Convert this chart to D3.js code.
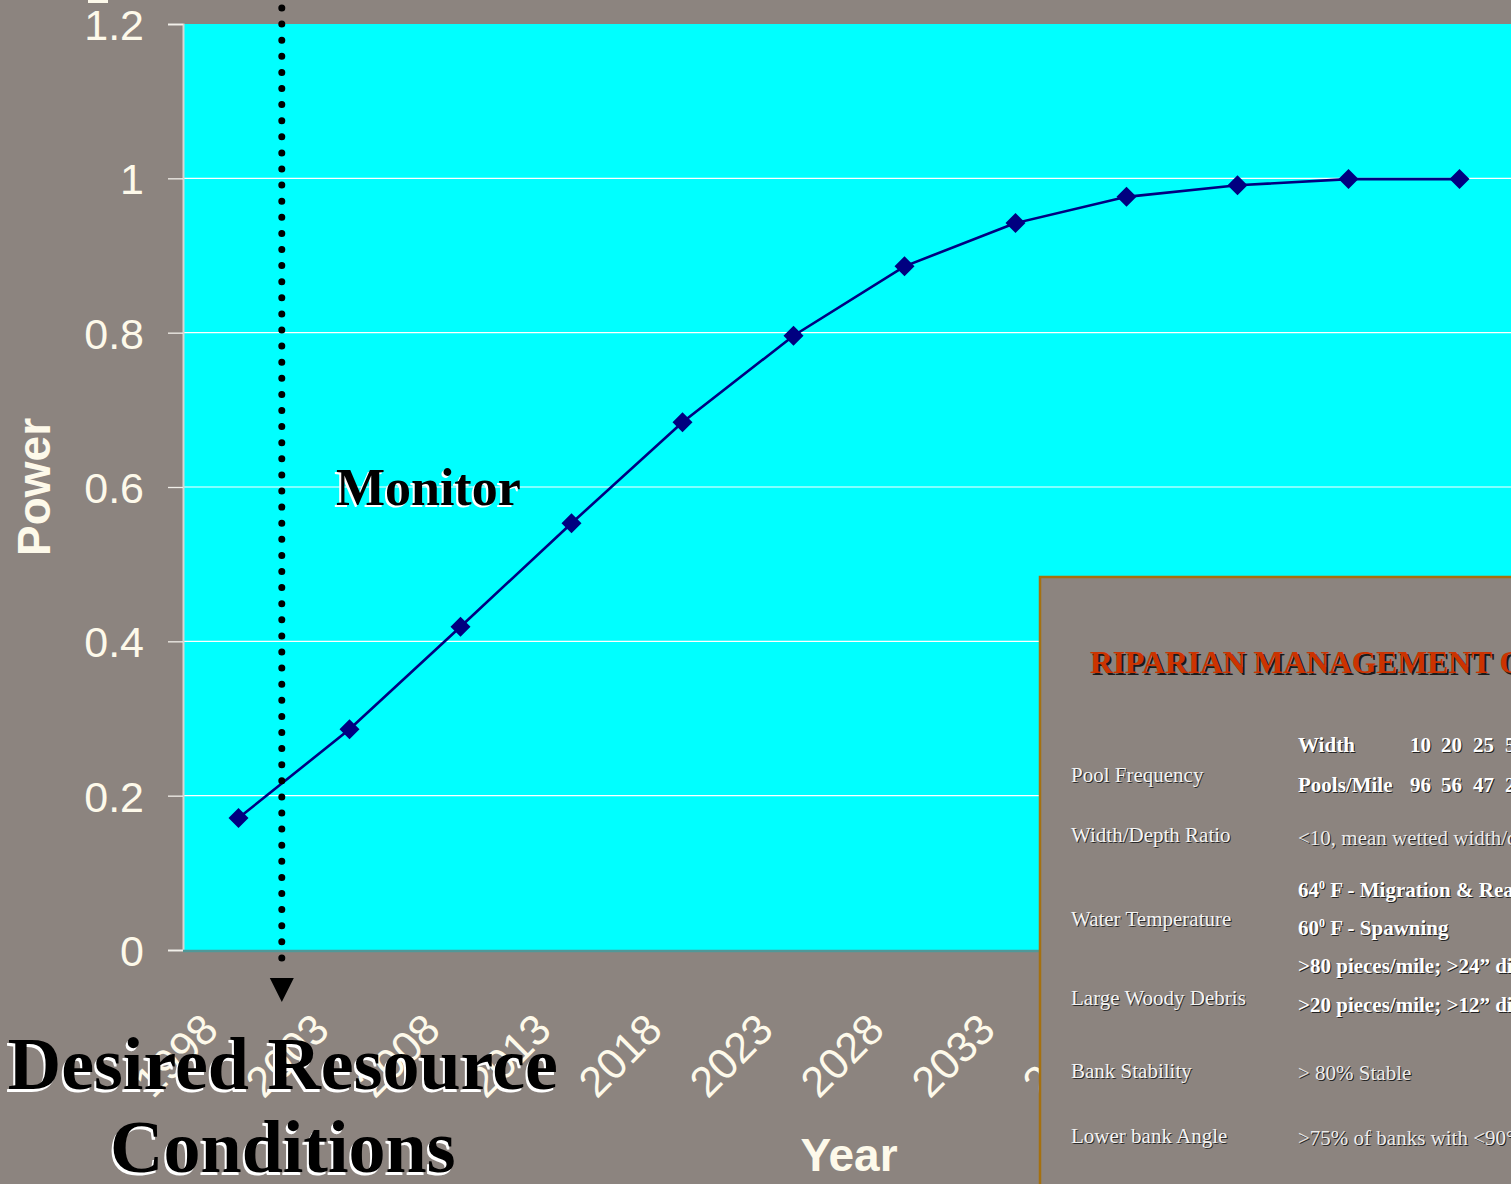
<!DOCTYPE html>
<html><head><meta charset="utf-8">
<script src="https://cdn.jsdelivr.net/npm/d3@7/dist/d3.min.js"></script>
<style>
html,body{margin:0;padding:0;background:#8c847f;overflow:hidden;}
svg{display:block;}
</style></head>
<body>
<svg id="c" width="1511" height="1184"></svg>
<script>
// ---- data ----
const years = ['1998','2003','2008','2013','2018','2023','2028','2033','2038','2043','2048','2053'];
const power = [0.171,0.286,0.419,0.553,0.684,0.796,0.886,0.942,0.976,0.991,0.999,0.999];
const yTicks = [0,0.2,0.4,0.6,0.8,1,1.2];
const gridTicks = [0.2,0.4,0.6,0.8,1];

const insetTitle = 'RIPARIAN MANAGEMENT OBJECTIVES';
const insetLabels = ['Pool Frequency','Width/Depth Ratio','Water Temperature','Large Woody Debris','Bank Stability','Lower bank Angle'];
const channelWidths = ['10','20','25','50'];
const poolsPerMile = ['96','56','47','26'];

(function(){
const BG = '#8c847f', CREAM = '#fdf9ea';
const svg = d3.select('#c');
svg.append('rect').attr('width',1511).attr('height',1184).attr('fill',BG);

const pLeft=183, pTop=24, pBottom=950, pRight=1515;
const x = d3.scaleBand().domain(years).range([pLeft,pRight]);
const y = d3.scaleLinear().domain([0,1.2]).range([pBottom,pTop]);
const cx = d => x(d)+x.bandwidth()/2;

// plot area
svg.append('rect').attr('x',pLeft).attr('y',pTop).attr('width',pRight-pLeft).attr('height',pBottom-pTop).attr('fill','#00ffff');
// grid
svg.append('g').selectAll('line').data(gridTicks).join('line')
  .attr('x1',pLeft).attr('x2',pRight).attr('y1',d=>y(d)).attr('y2',d=>y(d))
  .attr('stroke','#ffffff').attr('stroke-width',1.2);

// y axis
const ya = svg.append('g').attr('transform',`translate(${pLeft},0)`)
  .call(d3.axisLeft(y).tickValues(yTicks).tickSize(15).tickPadding(24).tickFormat(d3.format('~g')));
ya.select('.domain').attr('stroke','#d9d6d2').attr('stroke-width',2);
ya.selectAll('.tick line').attr('stroke','#f2f0ea').attr('stroke-width',1.3);
ya.selectAll('.tick text').attr('fill',CREAM).attr('font-family','Liberation Sans, Arial, sans-serif').attr('font-size',43).attr('dy','0.36em');

// x axis line
svg.append('line').attr('x1',pLeft).attr('x2',pRight).attr('y1',pBottom+1).attr('y2',pBottom+1).attr('stroke','#4f9898').attr('stroke-width',2.5);

// x labels
svg.append('g').selectAll('text').data(years).join('text')
  .attr('transform',d=>`translate(${cx(d)-18},${1032}) rotate(-45)`)
  .attr('text-anchor','end').attr('fill',CREAM)
  .attr('font-family','Liberation Sans, Arial, sans-serif').attr('font-size',43)
  .text(d=>d);

// axis titles
svg.append('text').attr('transform',`translate(50,${(pTop+pBottom)/2}) rotate(-90)`)
  .attr('text-anchor','middle').attr('fill',CREAM).attr('font-weight','bold')
  .attr('font-family','Liberation Sans, Arial, sans-serif').attr('font-size',46).text('Power');
svg.append('text').attr('x',(pLeft+pRight)/2).attr('y',1171)
  .attr('text-anchor','middle').attr('fill',CREAM).attr('font-weight','bold')
  .attr('font-family','Liberation Sans, Arial, sans-serif').attr('font-size',46).text('Year');

// series
const line = d3.line().x((d,i)=>cx(years[i])).y(d=>y(d));
svg.append('path').datum(power).attr('d',line).attr('fill','none').attr('stroke','#000080').attr('stroke-width',2.6);
svg.append('g').selectAll('path').data(power).join('path')
  .attr('d',d3.symbol(d3.symbolSquare,200)())
  .attr('transform',(d,i)=>`translate(${cx(years[i])},${y(d)}) rotate(45)`)
  .attr('fill','#000080');

// annotation: dotted arrow
const ax = x('1998') + x.bandwidth()*0.89;
svg.append('line').attr('x1',ax).attr('x2',ax).attr('y1',8).attr('y2',972)
  .attr('stroke','#000').attr('stroke-width',7).attr('stroke-linecap','round').attr('stroke-dasharray','0 16.1');
svg.append('path').attr('d',`M${ax-12},978 L${ax+12},978 L${ax},1002 Z`).attr('fill','#000');
svg.append('rect').attr('x',88).attr('y',0).attr('width',20).attr('height',3).attr('fill',CREAM);

function shadowText(g, xx, yy, txt, opt){
  const o = Object.assign({size:20,weight:'normal',fill:'#fff',shadow:'#222',sdx:1,sdy:1,anchor:'start',family:'Liberation Serif, Times New Roman, serif'},opt);
  [[o.shadow,o.sdx,o.sdy],[o.fill,0,0]].forEach(([c,dx,dy])=>{
    g.append('text').attr('x',xx+dx).attr('y',yy+dy).attr('fill',c)
      .attr('font-family',o.family).attr('font-size',o.size).attr('font-weight',o.weight)
      .attr('text-anchor',o.anchor).text(txt);
  });
}
// Monitor
shadowText(svg, x('2008')+x.bandwidth()*0.21, 505, 'Monitor', {size:52, weight:'bold', fill:'#000', shadow:'#fff', sdx:-2, sdy:2, anchor:'middle'});
// Desired Resource Conditions
shadowText(svg, ax+1, 1089, 'Desired Resource', {size:74, weight:'bold', fill:'#000', shadow:'#fff', sdx:-2, sdy:3, anchor:'middle'});
shadowText(svg, ax+1, 1172, 'Conditions', {size:74, weight:'bold', fill:'#000', shadow:'#fff', sdx:-2, sdy:3, anchor:'middle'});

// inset
const ins = svg.append('g');
ins.append('rect').attr('x',1040).attr('y',577).attr('width',520).attr('height',700).attr('fill',BG).attr('stroke','#a5700f').attr('stroke-width',2.5);
shadowText(ins, 1090, 673, insetTitle, {size:31.6, weight:'bold', fill:'#cc3300', shadow:'#1a1a1a', sdx:2, sdy:2});
const labelY = [782,842,926,1005,1078,1143];
insetLabels.forEach((t,i)=>shadowText(ins,1071,labelY[i],t,{size:21,fill:'#f4f4f4',shadow:'#2a2a2a'}));
const vx = 1298, colX = [1410,1441,1473,1505];
shadowText(ins, vx, 752, 'Width', {size:21, weight:'bold'});
channelWidths.forEach((t,i)=>shadowText(ins,colX[i],752,t,{size:21,weight:'bold'}));
shadowText(ins, vx, 792, 'Pools/Mile', {size:21, weight:'bold'});
poolsPerMile.forEach((t,i)=>shadowText(ins,colX[i],792,t,{size:21,weight:'bold'}));
shadowText(ins, vx, 845, '<10, mean wetted width/depth', {size:21, fill:'#ececec'});
function tempLine(yy, num, rest){
  [['#222',1,1],['#fff',0,0]].forEach(([c,dx,dy])=>{
    const t = ins.append('text').attr('x',vx+dx).attr('y',yy+dy).attr('fill',c)
      .attr('font-family','Liberation Serif, Times New Roman, serif').attr('font-size',21).attr('font-weight','bold');
    t.append('tspan').text(num);
    t.append('tspan').attr('font-size',12).attr('dy',-8).text('0');
    t.append('tspan').attr('dy',8).text(rest);
  });
}
tempLine(897,'64',' F - Migration & Rearing');
tempLine(935,'60',' F - Spawning');
shadowText(ins, vx, 973, '>80 pieces/mile; >24\u201D diameter', {size:21, weight:'bold'});
shadowText(ins, vx, 1012, '>20 pieces/mile; >12\u201D diameter', {size:21, weight:'bold'});
shadowText(ins, vx, 1080, '> 80% Stable', {size:21, fill:'#ececec'});
shadowText(ins, vx, 1145, '>75% of banks with <90\u00B0 angle', {size:21, fill:'#ececec'});
})();
</script>
</body></html>
